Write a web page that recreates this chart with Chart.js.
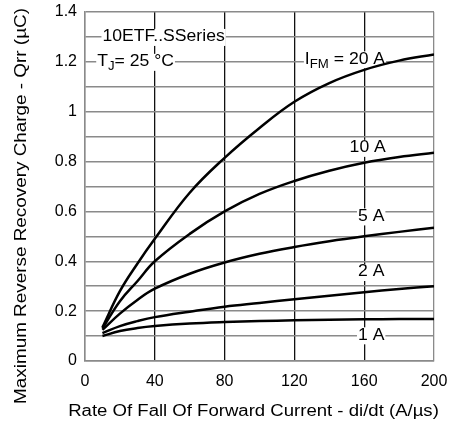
<!DOCTYPE html>
<html>
<head>
<meta charset="utf-8">
<script src="https://cdn.jsdelivr.net/npm/chart.js@4.4.1/dist/chart.umd.min.js"></script>
<style>
  html, body { margin: 0; padding: 0; background: #fff; }
  canvas { display: block; }
</style>
</head>
<body>
<canvas id="chart" width="451" height="428"></canvas>
<script>
// di/dt sample points (A/us)
const rates = [10, 20, 30, 40, 60, 80, 100, 120, 140, 160, 180, 200];

// Qrr (uC) per forward current
const qrr20A = [0.135, 0.28, 0.39, 0.49, 0.675, 0.815, 0.935, 1.04, 1.115, 1.168, 1.205, 1.23];
const qrr10A = [0.13, 0.24, 0.32, 0.40, 0.51, 0.60, 0.67, 0.722, 0.763, 0.795, 0.818, 0.835];
const qrr5A  = [0.125, 0.19, 0.245, 0.29, 0.35, 0.395, 0.43, 0.457, 0.48, 0.50, 0.518, 0.535];
const qrr2A  = [0.112, 0.14, 0.16, 0.176, 0.198, 0.218, 0.233, 0.248, 0.262, 0.276, 0.289, 0.30];
const qrr1A  = [0.10, 0.12, 0.132, 0.14, 0.15, 0.156, 0.16, 0.163, 0.165, 0.167, 0.168, 0.168];

const seriesNames = ['20 A', '10 A', '5 A', '2 A', '1 A'];
const seriesValues = [qrr20A, qrr10A, qrr5A, qrr2A, qrr1A];

const xTitle = 'Rate Of Fall Of Forward Current - di/dt (A/µs)';
const yTitle = 'Maximum Reverse Recovery Charge - Qrr (µC)';

const FONT = '"Liberation Sans", Arial, sans-serif';

// text notes, anchored in data units
const notes = [
  { parts: [['10ETF..SSeries']], x: 10, y: 1.3, align: 'left' },
  { parts: [['T'], ['J', 'sub'], ['= 25 °C']], x: 7, y: 1.2, align: 'left' },
  { parts: [['I'], ['FM', 'sub'], [' = 20 A']], x: 126, y: 1.21, align: 'left' },
  { parts: [['10 A']], x: 162, y: 0.855, align: 'center' },
  { parts: [['5 A']], x: 164, y: 0.58, align: 'center' },
  { parts: [['2 A']], x: 164, y: 0.357, align: 'center' },
  { parts: [['1 A']], x: 164, y: 0.103, align: 'center' },
];

// the source lettering is wider than Arial, so stretch it sideways
function wideText(ctx, text, x, y, sx, angle) {
  ctx.save();
  ctx.translate(x, y);
  if (angle) ctx.rotate(angle);
  ctx.scale(sx, 1);
  ctx.fillText(text, 0, 0);
  ctx.restore();
}

const notesPlugin = {
  id: 'notes',
  beforeDatasetsDraw(chart) {
    const { ctx, scales: { x, y } } = chart;
    const sx = 1.1;
    ctx.save();
    ctx.textBaseline = 'middle';
    ctx.textAlign = 'left';
    notes.forEach(n => {
      const widths = n.parts.map(([t, kind]) => {
        ctx.font = (kind === 'sub' ? '12px ' : '16px ') + FONT;
        return ctx.measureText(t).width * sx;
      });
      const total = widths.reduce((a, b) => a + b, 0);
      let px = x.getPixelForValue(n.x);
      const py = y.getPixelForValue(n.y);
      if (n.align === 'center') px -= total / 2;
      ctx.fillStyle = '#fff';
      ctx.fillRect(px - 1, py - 8, total + 2, 17);
      ctx.fillStyle = '#000';
      n.parts.forEach(([t, kind], i) => {
        ctx.font = (kind === 'sub' ? '12px ' : '16px ') + FONT;
        wideText(ctx, t, px, kind === 'sub' ? py + 5 : py, sx, 0);
        px += widths[i];
      });
    });
    ctx.restore();
  },
  afterDraw(chart) {
    const { ctx, chartArea } = chart;
    ctx.save();
    ctx.fillStyle = '#000';
    ctx.font = '16px ' + FONT;
    ctx.textBaseline = 'middle';
    ctx.textAlign = 'center';
    wideText(ctx, xTitle, (chartArea.left + chartArea.right) / 2 - 6, 412, 1.16, 0);
    wideText(ctx, yTitle, 22, 206, 1.18, -Math.PI / 2);
    ctx.restore();
  },
};

new Chart(document.getElementById('chart'), {
  type: 'line',
  data: {
    datasets: seriesNames.map((name, i) => ({
      label: name,
      data: rates.map((r, j) => ({ x: r, y: seriesValues[i][j] })),
      borderColor: '#000',
      borderWidth: 2.5,
      pointRadius: 0,
      fill: false,
      tension: 0.4,
    })),
  },
  options: {
    responsive: false,
    animation: false,
    layout: { padding: { top: 12, right: 17, left: 0, bottom: 0 } },
    plugins: { legend: { display: false }, tooltip: { enabled: false } },
    scales: {
      x: {
        type: 'linear',
        min: 0,
        max: 200,
        afterFit: s => { s.height = 67; s.paddingLeft = 0; s.paddingRight = 0; },
        ticks: { stepSize: 40, padding: 11, color: '#000', font: { family: FONT, size: 16 } },
        grid: {
          drawTicks: false,
          lineWidth: 1.3,
          color: c => (c.index === 0 || c.tick.value === 200) ? '#8a8a8a' : '#111',
        },
        border: { color: '#8a8a8a', width: 1.5 },
      },
      y: {
        min: 0,
        max: 1.4,
        afterFit: s => { s.width = 85; s.paddingTop = 0; s.paddingBottom = 0; },
        ticks: {
          stepSize: 0.1,
          padding: 8,
          color: '#000',
          font: { family: FONT, size: 16 },
          autoSkip: false,
          callback: v => {
            const k = Math.round(v * 10);
            return k % 2 === 0 ? String(+(k / 10).toFixed(1)) : '';
          },
        },
        grid: { drawTicks: false, lineWidth: 1.5, color: '#8a8a8a' },
        border: { color: '#8a8a8a', width: 1.5 },
      },
    },
  },
  plugins: [notesPlugin],
});
</script>
</body>
</html>
